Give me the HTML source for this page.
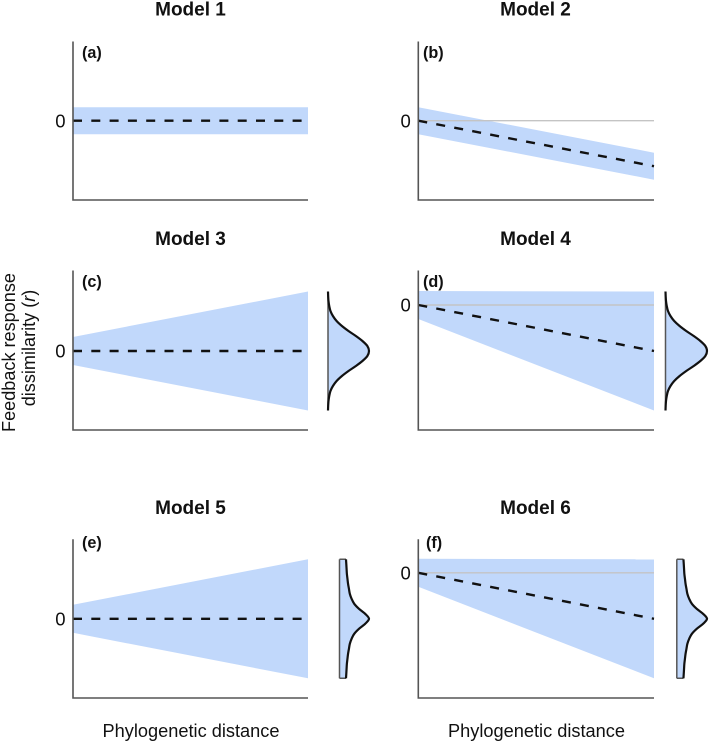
<!DOCTYPE html>
<html lang="en">
<head>
<meta charset="utf-8">
<title>Feedback response dissimilarity models</title>
<style>
html,body{margin:0;padding:0;background:#fff;}
svg{display:block;font-family:"Liberation Sans",Arial,sans-serif;}
</style>
</head>
<body>
<svg id="chart" xmlns="http://www.w3.org/2000/svg" width="709" height="742" viewBox="0 0 709 742">
<g font-size="18.1" fill="#111">
<text transform="translate(15,352.5) rotate(-90)" text-anchor="middle">Feedback response</text>
<text transform="translate(35,348) rotate(-90)" text-anchor="middle">dissimilarity (<tspan font-style="italic">r</tspan>)</text>
</g>
<text x="191" y="737" font-size="18.2" fill="#111" text-anchor="middle">Phylogenetic distance</text>
<text x="536.5" y="737" font-size="18.2" fill="#111" text-anchor="middle">Phylogenetic distance</text>
</svg>
<script>
// Panel data: r values at the left (distance 0) and right (distance 1) ends
const modelTitles = ['Model 1','Model 2','Model 3','Model 4','Model 5','Model 6'];
const panelLetters = ['(a)','(b)','(c)','(d)','(e)','(f)'];
const meanAtEnd = [0, -0.455, 0, -0.46, 0, -0.46];
const halfWidthStart = [0.135, 0.135, 0.14, 0.14, 0.14, 0.14];
const halfWidthEnd = [0.135, 0.135, 0.595, 0.595, 0.595, 0.595];
const clipBandTop = [false, false, false, true, false, true];
const showZeroLine = [false, true, false, true, false, true];
const densityType = ['none','none','normal','normal','peaked','peaked'];
// Density side curves: r offset from centre vs relative density
const densityR = [-0.595,-0.55,-0.5,-0.45,-0.4,-0.35,-0.3,-0.25,-0.2,-0.15,-0.1,-0.05,0,0.05,0.1,0.15,0.2,0.25,0.3,0.35,0.4,0.45,0.5,0.55,0.595];
const normalDensity = [0,0.004,0.012,0.03,0.06,0.12,0.21,0.34,0.50,0.68,0.84,0.96,1,0.96,0.84,0.68,0.50,0.34,0.21,0.12,0.06,0.03,0.012,0.004,0];
const peakedDensity = [0.22,0.23,0.24,0.25,0.27,0.29,0.32,0.35,0.41,0.50,0.66,0.87,1,0.87,0.66,0.50,0.41,0.35,0.32,0.29,0.27,0.25,0.24,0.23,0.22];

const NS = 'http://www.w3.org/2000/svg';
const svg = document.getElementById('chart');
const columnX = [[73,308],[418.3,654]];
const rowTop = [41.5,270.5,539.3];
const rowBottom = [200,430,698];
const zeroY = [[120.7,120.7],[351,305],[618.8,572.8]];
const titleBase = [15.5,245,514];
const labelBase = [58,287,547.8];
const labelX = [82,423,82,423,82,426];
const BLUE = '#c1d8fb';
const pxPerUnit = 100;

function make(parent, tag, attrs){
  const el = document.createElementNS(NS, tag);
  for (const k in attrs) el.setAttribute(k, attrs[k]);
  parent.appendChild(el);
  return el;
}

function smoothPath(pts){
  let d = 'M' + pts[0][0].toFixed(2) + ' ' + pts[0][1].toFixed(2);
  for (let k = 0; k < pts.length - 1; k++) {
    const p0 = pts[Math.max(k - 1, 0)], p1 = pts[k], p2 = pts[k + 1], p3 = pts[Math.min(k + 2, pts.length - 1)];
    const c1x = p1[0] + (p2[0] - p0[0]) / 6, c1y = p1[1] + (p2[1] - p0[1]) / 6;
    const c2x = p2[0] - (p3[0] - p1[0]) / 6, c2y = p2[1] - (p3[1] - p1[1]) / 6;
    d += 'C' + c1x.toFixed(2) + ' ' + c1y.toFixed(2) + ' ' + c2x.toFixed(2) + ' ' + c2y.toFixed(2) + ' ' + p2[0].toFixed(2) + ' ' + p2[1].toFixed(2);
  }
  return d;
}

modelTitles.forEach(function(title, i){
  const col = i % 2, row = Math.floor(i / 2);
  const x0 = columnX[col][0], x1 = columnX[col][1];
  const top = rowTop[row], bottom = rowBottom[row], zero = zeroY[row][col];
  const sx = function(d){ return x0 + d * (x1 - x0); };
  const sy = function(r){ return zero - r * pxPerUnit; };

  const g = make(svg, 'g', {});
  
  

  const t = make(g, 'text', {x: col ? 535.5 : 190.5, y: titleBase[row], 'text-anchor':'middle', 'font-size':19, 'font-weight':'bold', fill:'#111'});
  
  
  t.textContent = title;

  const m = meanAtEnd[i], hs = halfWidthStart[i], he = halfWidthEnd[i];
  const topL = hs, botL = -hs;
  const topR = clipBandTop[i] ? Math.min(hs, m + he) : m + he;
  const botR = m - he;
  const band = make(g, 'polygon', {
    points: [[sx(0),sy(topL)],[sx(1),sy(topR)],[sx(1),sy(botR)],[sx(0),sy(botL)]].map(function(p){return p.join(',');}).join(' '),
    fill: BLUE
  });
  
  

  if (showZeroLine[i]) {
    const zl = make(g, 'line', {x1:sx(0), x2:sx(1), y1:sy(0), y2:sy(0), stroke:'#c4c4c4', 'stroke-width':1.4});
    
    
  }

  const ml = make(g, 'line', {x1:sx(0), x2:sx(1), y1:sy(0), y2:sy(m), stroke:'#111', 'stroke-width':2.4, 'stroke-dasharray':'9 9.3'});
  
  

  const axis = make(g, 'path', {d:'M'+x0+' '+top+'V'+bottom+'H'+x1, fill:'none', stroke:'#555', 'stroke-width':1.6});
  
  

  const z = make(g, 'text', {x:x0 - 7.5, y:sy(0) + 6.6, 'text-anchor':'end', 'font-size':18.5, fill:'#111'});
  
  
  z.textContent = '0';

  const lab = make(g, 'text', {x: labelX[i], y: labelBase[row], 'font-size':16.2, 'font-weight':'bold', fill:'#111'});
  
  
  lab.textContent = panelLetters[i];

  if (densityType[i] !== 'none') {
    const peaked = densityType[i] === 'peaked';
    const values = peaked ? peakedDensity : normalDensity;
    const base = col ? (peaked ? 676.8 : 665.5) : (peaked ? 339.5 : 328);
    const peakX = col ? 707 : 369;
    const cy = sy(m);
    const dx = function(v){ return base + v * (peakX - base); };
    const dy = function(r){ return cy - r * pxPerUnit; };
    const pts = densityR.map(function(r, k){ return [dx(values[k]), dy(r)]; });
    const curve = smoothPath(pts);
    const last = densityR.length - 1;
    const df = make(g, 'path', {d:curve + 'L' + base + ' ' + dy(densityR[last]) + 'L' + base + ' ' + dy(densityR[0]) + 'Z', fill:BLUE});
    
    
    const dl = make(g, 'line', {x1:base, x2:base, y1:dy(densityR[0]), y2:dy(densityR[last]), stroke:'#555', 'stroke-width':1.5});
    
    
    if (peaked) {
      const caps = make(g, 'path', {d:'M'+base+' '+dy(densityR[0])+'H'+dx(values[0])+'M'+base+' '+dy(densityR[last])+'H'+dx(values[last]), stroke:'#555', 'stroke-width':1.5, fill:'none'});
      
      
    }
    const dc = make(g, 'path', {d:curve, fill:'none', stroke:'#111', 'stroke-width':2.2, 'stroke-linejoin':'round'});
    
    
  }
});
</script>
</body>
</html>
